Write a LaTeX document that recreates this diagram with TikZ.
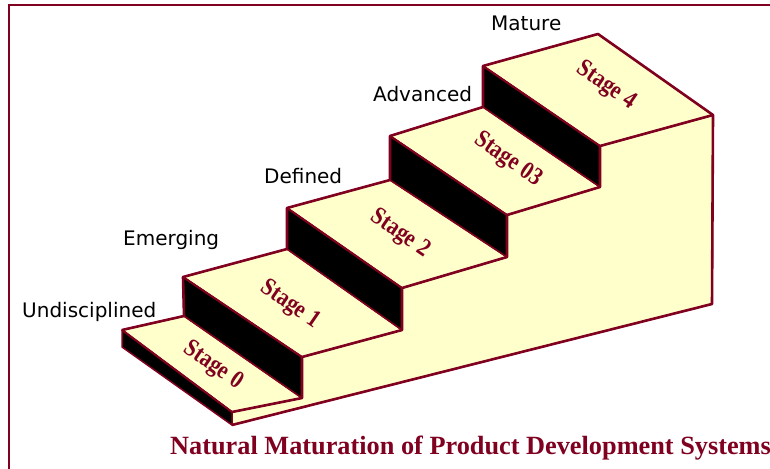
\documentclass[tikz,border=0pt]{standalone}
\usepackage{fontspec}
\setmainfont{Liberation Serif}
\newfontfamily\lblfont{DejaVu Sans}
\definecolor{maroonline}{RGB}{128,0,32}
\definecolor{stepfill}{RGB}{255,255,204}
\newcommand{\stagetext}[1]{\scalebox{0.95}[1.12]{#1}}
\begin{document}
\begin{tikzpicture}[x=1pt,y=-1pt,
  face/.style={fill=stepfill,draw=maroonline,line width=1.5pt,line join=round},
  riser/.style={fill=black,draw=maroonline,line width=1.5pt,line join=round},
  outline/.style={draw=maroonline,line width=2.6pt,line join=round},
  levellabel/.style={font=\lblfont\fontsize{20}{20}\selectfont,text=black,inner sep=0pt,anchor=base west},
  stagelabel/.style={font=\bfseries\fontsize{22.5}{22.5}\selectfont,text=maroonline,inner sep=0pt,rotate=-34.6}]
\useasboundingbox (0,0) rectangle (770,468);
% frame
\draw[maroonline,line width=2pt] (9,470) -- (9,5) -- (772,5);
% step corners
\coordinate (s0a) at (122,330); \coordinate (s0b) at (232,412);
\coordinate (s0c) at (302,398); \coordinate (s0d) at (184,316);
\coordinate (s0e) at (122,347); \coordinate (s0f) at (232,425);
\coordinate (s1a) at (183,277); \coordinate (s1b) at (302,357);
\coordinate (s1c) at (402,330); \coordinate (s1d) at (287,249);
\coordinate (s2a) at (287,208); \coordinate (s2b) at (402,288);
\coordinate (s2c) at (507,257); \coordinate (s2d) at (390,180);
\coordinate (s3a) at (390,136); \coordinate (s3b) at (507,215);
\coordinate (s3c) at (600,187); \coordinate (s3d) at (483,107);
\coordinate (s4a) at (483,66);  \coordinate (s4b) at (600,146);
\coordinate (s4c) at (713,115); \coordinate (s4d) at (598,34);
\coordinate (base) at (712,304);
% side face
\path[face] (s0f) -- (s0b) -- (s0c) -- (s1b) -- (s1c) -- (s2b) -- (s2c) -- (s3b)
  -- (s3c) -- (s4b) -- (s4c) -- (base) -- cycle;
% treads
\path[face] (s0a) -- (s0b) -- (s0c) -- (s0d) -- cycle;
\path[face] (s1a) -- (s1b) -- (s1c) -- (s1d) -- cycle;
\path[face] (s2a) -- (s2b) -- (s2c) -- (s2d) -- cycle;
\path[face] (s3a) -- (s3b) -- (s3c) -- (s3d) -- cycle;
\path[face] (s4a) -- (s4b) -- (s4c) -- (s4d) -- cycle;
% risers
\path[riser] (s0e) -- (s0a) -- (s0b) -- (s0f) -- cycle;
\path[riser] (s1a) -- (s1b) -- (s0c) -- (s0d) -- cycle;
\path[riser] (s2a) -- (s2b) -- (s1c) -- (s1d) -- cycle;
\path[riser] (s3a) -- (s3b) -- (s2c) -- (s2d) -- cycle;
\path[riser] (s4a) -- (s4b) -- (s3c) -- (s3d) -- cycle;
% silhouette
\path[outline] (s0a) -- (s0d) -- (s1a) -- (s1d) -- (s2a) -- (s2d) -- (s3a) -- (s3d)
  -- (s4a) -- (s4d) -- (s4c) -- (base) -- (s0f);
\path[outline] (s0b) -- (s0c) -- (s1b) -- (s1c) -- (s2b) -- (s2c) -- (s3b) -- (s3c) -- (s4b) -- (s4c);
\path[draw=maroonline,line width=2pt] (s1a) -- (s1b) (s2a) -- (s2b) (s3a) -- (s3b) (s4a) -- (s4b) (s0a) -- (s0b);
% stage labels
\node[stagelabel] (st0) at (213,366) {\stagetext{Stage 0}};
\node[stagelabel] (st1) at (290,305) {\stagetext{Stage 1}};
\node[stagelabel] (st2) at (400,234) {\stagetext{Stage 2}};
\node[stagelabel] (st3) at (508,160) {\stagetext{Stage 03}};
\node[stagelabel] (st4) at (606,86) {\stagetext{Stage 4}};
% level labels
\node[levellabel] (lv0) at (22,317) {Undisciplined};
\node[levellabel] (lv1) at (123,245) {Emerging};
\node[levellabel] (lv2) at (264,183) {Defined};
\node[levellabel] (lv3) at (373,102) {Advanced};
\node[levellabel] (lv4) at (491,31) {Mature};
% title
\node[font=\bfseries\fontsize{26.3}{26.3}\selectfont,text=maroonline,inner sep=0pt,anchor=base west] (title) at (170,454) {Natural Maturation of Product Development Systems};
\end{tikzpicture}
\end{document}
